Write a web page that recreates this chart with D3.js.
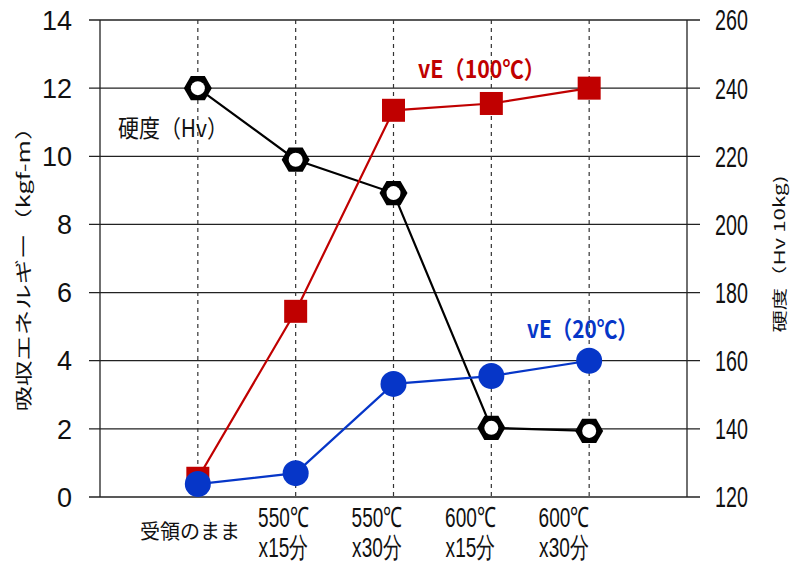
<!DOCTYPE html>
<html>
<head>
<meta charset="utf-8">
<script src="https://cdn.jsdelivr.net/npm/d3@7"></script>
<style>
  body { margin: 0; background: #fff; }
  svg { display: block; }
</style>
</head>
<body>
<svg id="chart" width="790" height="565"></svg>
<script>
// Data
const categories = ['受領のまま', '550℃ x15分', '550℃ x30分', '600℃ x15分', '600℃ x30分'];
const catLines = [['受領のまま'], ['550℃', 'x15分'], ['550℃', 'x30分'], ['600℃', 'x15分'], ['600℃', 'x30分']];
const vE100 = [0.55, 5.45, 11.35, 11.55, 12.0];
const vE20 = [0.38, 0.7, 3.32, 3.55, 4.0];
const hardness = [240, 219, 209.2, 140.3, 139.4];
const leftTicks = [0, 2, 4, 6, 8, 10, 12, 14];
const rightTicks = [120, 140, 160, 180, 200, 220, 240, 260];

const margin = { left: 100, right: 103, top: 20, bottom: 68 };
const width = 790, height = 565;
const innerW = width - margin.left - margin.right;
const innerH = height - margin.top - margin.bottom;

const svg = d3.select('#chart');
const g = svg.append('g').attr('transform', `translate(${margin.left},${margin.top})`);

const x = d3.scalePoint().domain(categories).range([0, innerW]).padding(1);
// category labels sit a little tighter than the marks
const xLabel = d3.scalePoint().domain(categories).range([90, 464]);
const yL = d3.scaleLinear().domain([0, 14]).range([innerH, 0]);
const yR = d3.scaleLinear().domain([120, 260]).range([innerH, 0]);

const sans = '"Liberation Sans", Arial, sans-serif';
const jp = '"Noto Sans CJK JP", sans-serif';

// Gridlines (extend past the frame as tick marks)
g.selectAll('.grid')
    .data(leftTicks)
    .join('line')
    .attr('x1', -11)
    .attr('x2', innerW + 13)
    .attr('y1', d => yL(d))
    .attr('y2', d => yL(d))
    .attr('stroke', '#222')
    .attr('stroke-width', 1.3);

// Dashed category lines
g.selectAll('.vline')
    .data(categories)
    .join('line')
    .attr('x1', d => x(d))
    .attr('x2', d => x(d))
    .attr('y1', 0)
    .attr('y2', innerH)
    .attr('stroke', '#333')
    .attr('stroke-width', 1.2)
    .attr('stroke-dasharray', '4,4');

// Frame sides
g.append('line').attr('x1', 0).attr('x2', 0).attr('y1', 0).attr('y2', innerH)
    .attr('stroke', '#222').attr('stroke-width', 1.3);
g.append('line').attr('x1', innerW).attr('x2', innerW).attr('y1', 0).attr('y2', innerH)
    .attr('stroke', '#222').attr('stroke-width', 1.3);

// Left tick labels
g.selectAll('.ltick')
    .data(leftTicks)
    .join('text')
    .attr('x', -28)
    .attr('y', d => yL(d))
    .attr('dy', '0.36em')
    .attr('text-anchor', 'end')
    .attr('font-family', sans)
    .attr('font-size', '27px')
    .attr('fill', '#111')
    .text(d => d);

// Right tick labels (condensed)
g.selectAll('.rtick')
    .data(rightTicks)
    .join('text')
    .attr('transform', d => `translate(${innerW + 28},${yR(d)}) scale(0.68,1)`)
    .attr('dy', '0.36em')
    .attr('text-anchor', 'start')
    .attr('font-family', sans)
    .attr('font-size', '29px')
    .attr('fill', '#111')
    .text(d => d);

// Category labels
catLines.forEach((lines, i) => {
    const cx = xLabel(categories[i]);
    if (lines.length === 1) {
        g.append('text')
            .attr('x', cx)
            .attr('y', innerH + 42)
            .attr('text-anchor', 'middle')
            .attr('font-family', jp)
            .attr('font-size', '20px')
            .attr('fill', '#111')
            .text(lines[0]);
    } else {
        lines.forEach((s, j) => {
            g.append('text')
                .attr('transform', `translate(${cx},${innerH + 30 + j * 30}) scale(0.68,1)`)
                .attr('text-anchor', 'middle')
                .attr('font-family', sans)
                .attr('font-size', '28px')
                .attr('fill', '#111')
                .text(s);
        });
    }
});

// Axis titles (squashed across the text direction like the original)
svg.append('text')
    .attr('transform', 'translate(23, 263) rotate(-90) scale(1,0.62)')
    .attr('text-anchor', 'middle')
    .attr('dominant-baseline', 'central')
    .attr('font-family', jp)
    .attr('font-size', '28px')
    .attr('textLength', 297)
    .attr('lengthAdjust', 'spacingAndGlyphs')
    .attr('fill', '#111')
    .text('吸収エネルギー（kgf-m）');

svg.append('text')
    .attr('transform', 'translate(778, 254) rotate(-90) scale(1,0.6)')
    .attr('text-anchor', 'middle')
    .attr('dominant-baseline', 'central')
    .attr('font-family', jp)
    .attr('font-size', '25px')
    .attr('textLength', 157)
    .attr('lengthAdjust', 'spacingAndGlyphs')
    .attr('fill', '#111')
    .text('硬度（Hv 10kg)');

// Lines
const line = (scale) => d3.line().x((d, i) => x(categories[i])).y(d => scale(d));

g.append('path').datum(hardness).attr('d', line(yR))
    .attr('fill', 'none').attr('stroke', '#000').attr('stroke-width', 2.2);
g.append('path').datum(vE100).attr('d', line(yL))
    .attr('fill', 'none').attr('stroke', '#c00000').attr('stroke-width', 2.2);
g.append('path').datum(vE20).attr('d', line(yL))
    .attr('fill', 'none').attr('stroke', '#0636c8').attr('stroke-width', 2.2);

// Red squares
g.selectAll('.sq')
    .data(vE100)
    .join('rect')
    .attr('x', (d, i) => x(categories[i]) - 11.5)
    .attr('y', d => yL(d) - 11.5)
    .attr('width', 23)
    .attr('height', 23)
    .attr('fill', '#c00000');

// Blue circles
g.selectAll('.dot')
    .data(vE20)
    .join('circle')
    .attr('cx', (d, i) => x(categories[i]))
    .attr('cy', d => yL(d))
    .attr('r', 13)
    .attr('fill', '#0636c8');

// Hexagons for hardness
const hexPath = (r) => {
    const pts = d3.range(6).map(k => {
        const a = Math.PI / 3 * k;
        return [r * Math.cos(a), r * Math.sin(a)];
    });
    return 'M' + pts.map(p => p.join(',')).join('L') + 'Z';
};
const hexes = g.selectAll('.hex')
    .data(hardness)
    .join('g')
    .attr('transform', (d, i) => `translate(${x(categories[i])},${yR(d)})`);
hexes.append('path').attr('d', hexPath(14)).attr('fill', '#000');
hexes.append('circle').attr('r', 7).attr('fill', '#fff');

// Series labels
svg.append('text')
    .attr('x', 118).attr('y', 137)
    .attr('font-family', jp).attr('font-size', '24px').attr('fill', '#111')
    .attr('textLength', 110).attr('lengthAdjust', 'spacingAndGlyphs')
    .text('硬度（Hv）');

svg.append('text')
    .attr('x', 418).attr('y', 78)
    .attr('font-family', jp).attr('font-size', '24px').attr('font-weight', 'bold')
    .attr('textLength', 127).attr('lengthAdjust', 'spacingAndGlyphs')
    .attr('fill', '#c00000')
    .text('vE（100℃）');

svg.append('text')
    .attr('x', 527).attr('y', 338)
    .attr('font-family', jp).attr('font-size', '24px').attr('font-weight', 'bold')
    .attr('textLength', 111).attr('lengthAdjust', 'spacingAndGlyphs')
    .attr('fill', '#0636c8')
    .text('vE（20℃）');
</script>
</body>
</html>
